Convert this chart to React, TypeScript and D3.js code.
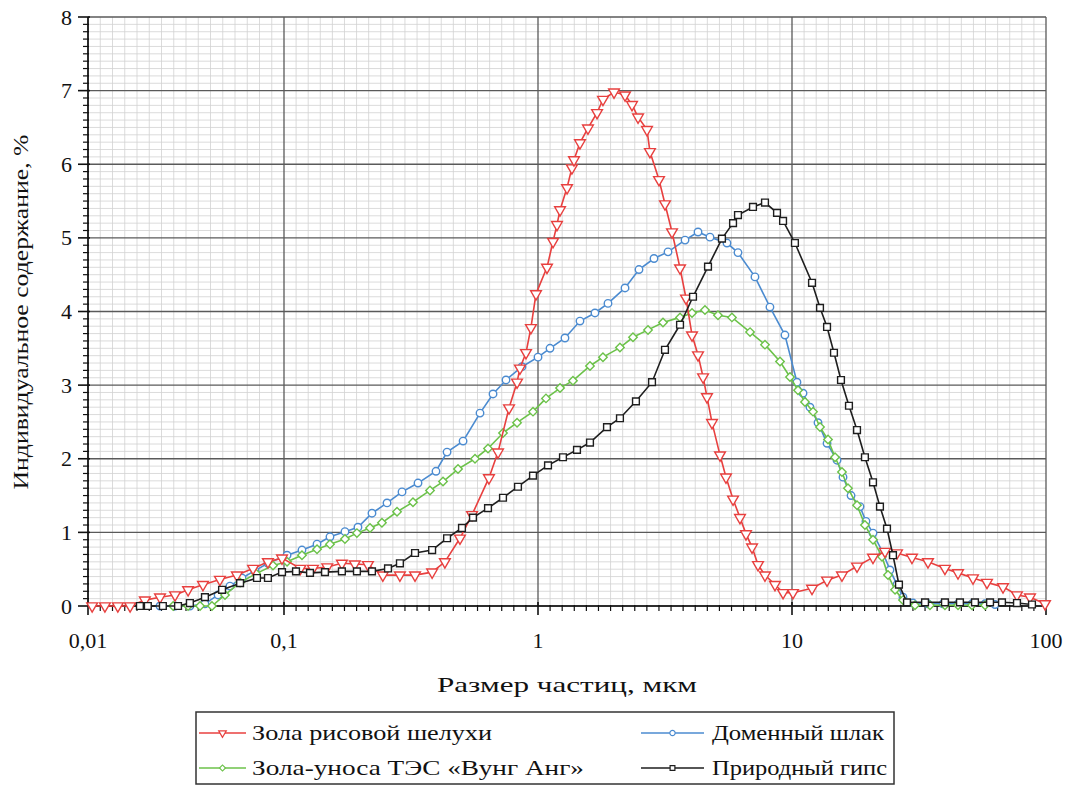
import * as d3 from "d3";

// Размер частиц (мкм) и индивидуальное содержание (%)
const riceHusk: [number, number][] = [
  [0.0105, 0], [0.0122, 0], [0.0142, 0], [0.0164, 0], [0.0195, 0.08], [0.0233, 0.12],
  [0.0278, 0.15], [0.0324, 0.22], [0.0386, 0.29], [0.0471, 0.36], [0.0575, 0.42], [0.0695, 0.51],
  [0.0828, 0.6], [0.0977, 0.65], [0.116, 0.51], [0.13, 0.51], [0.148, 0.53], [0.169, 0.58],
  [0.19, 0.57], [0.214, 0.56], [0.245, 0.42], [0.286, 0.42], [0.328, 0.42], [0.383, 0.46],
  [0.43, 0.6], [0.493, 0.92], [0.55, 1.24], [0.641, 1.74], [0.696, 2.09], [0.769, 2.69],
  [0.827, 3.04], [0.849, 3.23], [0.897, 3.44], [0.938, 3.78], [0.982, 4.24], [1.085, 4.6],
  [1.146, 4.95], [1.188, 5.18], [1.221, 5.38], [1.301, 5.68], [1.36, 5.95], [1.386, 6.06],
  [1.463, 6.29], [1.573, 6.49], [1.708, 6.7], [1.802, 6.88], [1.992, 6.98], [2.201, 6.94],
  [2.345, 6.81], [2.477, 6.64], [2.686, 6.47], [2.759, 6.17], [2.995, 5.79], [3.162, 5.46],
  [3.37, 5.08], [3.624, 4.59], [3.826, 4.18], [4.04, 3.68], [4.266, 3.41], [4.465, 3.11],
  [4.627, 2.84], [4.843, 2.49], [5.207, 2.05], [5.498, 1.75], [5.86, 1.45], [6.241, 1.2],
  [6.59, 0.98], [6.962, 0.8], [7.348, 0.56], [7.828, 0.42], [8.571, 0.29], [9.222, 0.18],
  [10.09, 0.18], [11.99, 0.24], [13.74, 0.35], [15.73, 0.42], [18.03, 0.54], [20.84, 0.66],
  [23.23, 0.74], [25.9, 0.72], [29.67, 0.66], [34.31, 0.6], [40.01, 0.51], [45.04, 0.45],
  [51.58, 0.38], [58.57, 0.32], [67.73, 0.26], [76.86, 0.15], [86.5, 0.12], [99.1, 0.03],
];

const blastSlag: [number, number][] = [
  [0.0233, 0], [0.0278, 0], [0.0331, 0], [0.0395, 0.03], [0.0461, 0.15], [0.053, 0.27],
  [0.0611, 0.38], [0.0711, 0.48], [0.0828, 0.58], [0.1028, 0.69], [0.1177, 0.76], [0.1349, 0.84],
  [0.1517, 0.94], [0.1738, 1.01], [0.1955, 1.07], [0.222, 1.26], [0.2545, 1.4], [0.2915, 1.55],
  [0.337, 1.67], [0.3966, 1.83], [0.4385, 2.09], [0.507, 2.24], [0.5912, 2.62], [0.6652, 2.88],
  [0.7482, 3.07], [0.865, 3.25], [1.0, 3.38], [1.115, 3.5], [1.277, 3.64], [1.463, 3.87],
  [1.676, 3.98], [1.886, 4.11], [2.201, 4.32], [2.498, 4.57], [2.862, 4.72], [3.25, 4.81],
  [3.792, 4.97], [4.266, 5.08], [4.755, 5.01], [5.546, 4.93], [6.128, 4.8], [7.148, 4.47],
  [8.188, 4.06], [9.379, 3.68], [10.46, 3.04], [11.05, 2.89], [11.77, 2.7], [12.66, 2.49],
  [13.74, 2.21], [15.04, 1.98], [15.88, 1.75], [17.08, 1.5], [18.52, 1.35], [19.55, 1.15],
  [20.84, 0.99], [22.82, 0.72], [24.3, 0.49], [25.9, 0.29], [27.35, 0.12], [29.95, 0.04],
  [34.31, 0.03], [39.3, 0.03], [45.04, 0.03], [51.12, 0.03], [57.54, 0.03], [62.99, 0.02],
];

const flyAsh: [number, number][] = [
  [0.0272, 0], [0.0324, 0], [0.0373, 0], [0.0429, 0], [0.05, 0.15], [0.0597, 0.32],
  [0.072, 0.44], [0.0879, 0.55], [0.1028, 0.6], [0.1177, 0.69], [0.1349, 0.77], [0.1517, 0.84],
  [0.1738, 0.91], [0.1937, 0.99], [0.2181, 1.06], [0.243, 1.13], [0.2786, 1.28], [0.322, 1.41],
  [0.3757, 1.57], [0.4227, 1.69], [0.4843, 1.86], [0.5649, 2.0], [0.6356, 2.14], [0.7281, 2.35],
  [0.827, 2.49], [0.9557, 2.64], [1.075, 2.82], [1.221, 2.96], [1.373, 3.06], [1.602, 3.26],
  [1.802, 3.38], [2.102, 3.51], [2.366, 3.65], [2.711, 3.75], [3.105, 3.85], [3.624, 3.92],
  [4.04, 3.98], [4.543, 4.02], [5.112, 3.95], [5.803, 3.92], [6.837, 3.72], [7.828, 3.55],
  [8.97, 3.32], [9.82, 3.11], [10.56, 2.93], [11.25, 2.77], [12.1, 2.64], [12.89, 2.43],
  [13.86, 2.26], [14.77, 2.02], [15.73, 1.82], [16.61, 1.6], [18.03, 1.37], [19.37, 1.1],
  [20.84, 0.9], [22.61, 0.67], [23.87, 0.42], [25.45, 0.22], [27.35, 0.08], [30.49, 0.01],
  [34.93, 0.01], [40.01, 0.01], [45.04, 0.01], [51.12, 0.01], [57.54, 0.01],
];

const gypsum: [number, number][] = [
  [0.0184, 0], [0.0202, 0], [0.0241, 0], [0.0288, 0], [0.0331, 0.04], [0.0395, 0.12],
  [0.0483, 0.22], [0.0597, 0.31], [0.0728, 0.38], [0.0828, 0.38], [0.0977, 0.46], [0.1115, 0.47],
  [0.1266, 0.45], [0.145, 0.46], [0.169, 0.47], [0.1937, 0.47], [0.222, 0.47], [0.2567, 0.51],
  [0.286, 0.58], [0.328, 0.72], [0.383, 0.76], [0.4385, 0.92], [0.502, 1.06], [0.5546, 1.2],
  [0.6356, 1.33], [0.7281, 1.47], [0.834, 1.62], [0.9557, 1.77], [1.095, 1.91], [1.254, 2.02],
  [1.424, 2.12], [1.602, 2.22], [1.869, 2.43], [2.102, 2.55], [2.43, 2.78], [2.811, 3.04],
  [3.162, 3.48], [3.624, 3.82], [4.076, 4.2], [4.67, 4.61], [5.3, 4.99], [5.86, 5.2],
  [6.128, 5.31], [7.02, 5.42], [7.828, 5.48], [8.73, 5.34], [9.222, 5.23], [10.27, 4.93],
  [11.99, 4.39], [12.89, 4.05], [13.74, 3.79], [14.63, 3.44], [15.59, 3.07], [16.76, 2.72],
  [18.03, 2.39], [19.37, 2.02], [20.84, 1.68], [22.2, 1.35], [23.66, 1.05], [24.98, 0.69],
  [26.37, 0.29], [28.36, 0.05], [33.4, 0.05], [40.01, 0.05], [45.84, 0.05], [52.52, 0.05],
  [60.21, 0.05], [67.1, 0.05], [76.86, 0.04], [88.07, 0.02],
];

const yTicks = [0, 1, 2, 3, 4, 5, 6, 7, 8];
const xTicks = [0.01, 0.1, 1, 10, 100];
const xTickLabels = ["0,01", "0,1", "1", "10", "100"];

const W = 1065;
const H = 787;
const left = 88, right = 1046, top = 17, bottom = 606;

// ось x – логарифмическая, первая декада в исходнике уже остальных
const xLog = d3.scaleLinear().domain([-2, -1, 2]).range([left, 284, right]);
const x = (v: number) => xLog(Math.log10(v));
const y = d3.scaleLinear().domain([0, 8]).range([bottom, top]);

const minorX: number[] = [];
;[-2, -1, 0, 1].forEach((d) => {
  const n = d === -2 ? 16 : 21;
  for (let k = 1; k < n; k++) minorX.push(Math.pow(10, d + k / n));
});
const minorY = d3.range(1, 80).filter((i) => i % 10 !== 0).map((i) => i / 10);

const series = [
  { name: "Доменный шлак", data: blastSlag, color: "#4b8bd0", shape: "circle" },
  { name: "Зола-уноса ТЭС «Вунг Анг»", data: flyAsh, color: "#6cc24a", shape: "diamond" },
  { name: "Зола рисовой шелухи", data: riceHusk, color: "#e8403f", shape: "triangle" },
  { name: "Природный гипс", data: gypsum, color: "#1e1e1e", shape: "square" },
]

const symbolPath = (shape: string, scale = 1) => {
  if (shape === "circle") return d3.symbol().type(d3.symbolCircle).size(44 * scale)()
  if (shape === "square") return d3.symbol().type(d3.symbolSquare).size(46 * scale)()
  if (shape === "diamond") return d3.symbol().type(d3.symbolSquare).size(36 * scale)()
  return d3.symbol().type(d3.symbolTriangle).size(50 * scale)()
}
const symbolRot = (shape: string) => (shape === "diamond" ? 45 : shape === "triangle" ? 180 : 0)

const line = d3
  .line<[number, number]>()
  .x((d) => x(d[0]))
  .y((d) => y(d[1]))

// легенда: колонка, строка, длина подписи
const legendItems = [
  { key: "Зола рисовой шелухи", col: 0, row: 0, len: 240 },
  { key: "Доменный шлак", col: 1, row: 0, len: 172 },
  { key: "Зола-уноса ТЭС «Вунг Анг»", col: 0, row: 1, len: 332 },
  { key: "Природный гипс", col: 1, row: 1, len: 175 },
]

export default function App() {
  return (
    <svg
      width={W}
      height={H}
      style={{ position: "absolute", left: 0, top: 0, background: "#fff" }}
      fontFamily="'Liberation Serif', 'Times New Roman', serif"
    >
      {/* мелкая сетка */}
      <g stroke="#d2d2d2" strokeWidth={0.8}>
        {minorX.map((v, i) => (
          <line key={"mx" + i} x1={x(v)} x2={x(v)} y1={top} y2={bottom} />
        ))}
        {minorY.map((v, i) => (
          <line key={"my" + i} x1={left} x2={right} y1={y(v)} y2={y(v)} />
        ))}
      </g>
      {/* основная сетка */}
      <g stroke="#5a5a5a" strokeWidth={1.3}>
        {xTicks.map((v) => (
          <line key={"gx" + v} x1={x(v)} x2={x(v)} y1={top} y2={bottom} />
        ))}
        {yTicks.map((v) => (
          <line key={"gy" + v} x1={left} x2={right} y1={y(v)} y2={y(v)} />
        ))}
      </g>

      {/* оси */}
      <g stroke="#111" strokeWidth={1.6}>
        <line x1={left} x2={left} y1={top} y2={bottom} />
        <line x1={left} x2={right} y1={bottom} y2={bottom} />
        {minorY.map((v, i) => (
          <line key={"ty" + i} x1={left - 5} x2={left + 1} y1={y(v)} y2={y(v)} strokeWidth={1.2} />
        ))}
        {yTicks.map((v) => (
          <line key={"tY" + v} x1={left - 10} x2={left + 2} y1={y(v)} y2={y(v)} />
        ))}
        {minorX.map((v, i) => (
          <line key={"tx" + i} x1={x(v)} x2={x(v)} y1={bottom - 1} y2={bottom + 5} strokeWidth={1.2} />
        ))}
        {xTicks.map((v) => (
          <line key={"tX" + v} x1={x(v)} x2={x(v)} y1={bottom - 4} y2={bottom + 9} />
        ))}
      </g>
      <g fontSize={22} fill="#111">
        {yTicks.map((v) => (
          <text key={"ly" + v} x={left - 16} y={y(v)} textAnchor="end" dominantBaseline="central">
            {v}
          </text>
        ))}
        {xTicks.map((v, i) => (
          <text key={"lx" + v} x={x(v)} y={bottom + 42} textAnchor="middle">
            {xTickLabels[i]}
          </text>
        ))}
      </g>
      <text x={567} y={692} textAnchor="middle" fontSize={21} fill="#111" textLength={260} lengthAdjust="spacingAndGlyphs">
        Размер частиц, мкм
      </text>
      <text
        transform="translate(28,312) rotate(-90)"
        textAnchor="middle"
        fontSize={21}
        fill="#111"
        textLength={355}
        lengthAdjust="spacingAndGlyphs"
      >
        Индивидуальное содержание, %
      </text>

      {/* серии */}
      {series.map((s) => (
        <g key={s.name}>
          <path d={line(s.data) || ""} fill="none" stroke={s.color} strokeWidth={1.6} />
          {s.data.map((d, i) => (
            <path
              key={i}
              d={symbolPath(s.shape) || ""}
              transform={`translate(${x(d[0])},${y(d[1])}) rotate(${symbolRot(s.shape)})`}
              fill="#fff"
              stroke={s.color}
              strokeWidth={1.4}
            />
          ))}
        </g>
      ))}

      {/* легенда */}
      <rect x={196} y={712} width={698} height={72} fill="#fff" stroke="#333" strokeWidth={1.5} />
      {legendItems.map((it) => {
        const s = series.find((q) => q.name === it.key)!
        const lx1 = it.col === 0 ? 199 : 641
        const lx2 = it.col === 0 ? 246 : 704
        const ly = it.row === 0 ? 733 : 768
        return (
          <g key={it.key}>
            <line x1={lx1} x2={lx2} y1={ly} y2={ly} stroke={s.color} strokeWidth={1.6} />
            <path
              d={symbolPath(s.shape, 0.5) || ""}
              transform={`translate(${(lx1 + lx2) / 2},${ly}) rotate(${symbolRot(s.shape)})`}
              fill="#fff"
              stroke={s.color}
              strokeWidth={1.2}
            />
            <text
              x={it.col === 0 ? 252 : 712}
              y={ly}
              dominantBaseline="central"
              fontSize={21}
              fill="#111"
              textLength={it.len}
              lengthAdjust="spacingAndGlyphs"
            >
              {s.name}
            </text>
          </g>
        )
      })}
    </svg>
  )
}
